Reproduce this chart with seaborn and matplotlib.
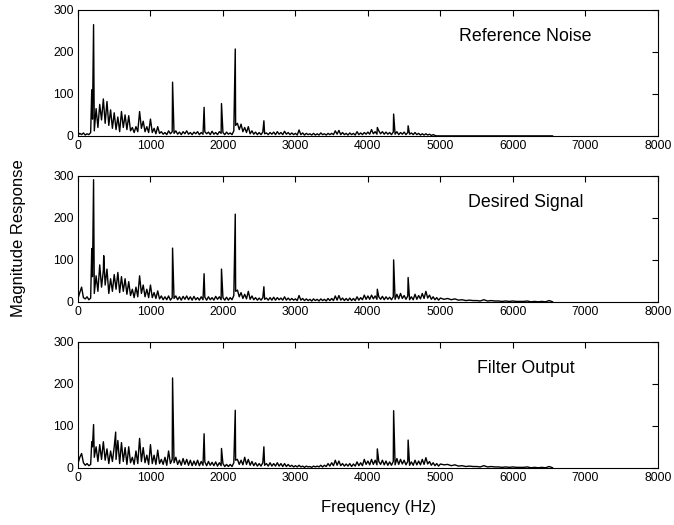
import numpy as np
import pandas as pd
import matplotlib
matplotlib.use('Agg')
import matplotlib.pyplot as plt
import seaborn as sns

# frequency grids (Hz)
floor_freq = np.arange(0, 5000, 25)
tail_freq = np.arange(5000, 6600, 50)

# broadband floor, 25 Hz steps, one row = 500 Hz
noise_floor = [
    2, 6, 3, 7, 2, 5, 3, 8, 40, 12, 65, 20, 75, 38, 88, 30, 82, 25, 62, 18,
    55, 15, 45, 10, 58, 20, 50, 15, 48, 12, 20, 8, 22, 10, 58, 18, 35, 10, 22, 8,
    40, 8, 18, 5, 22, 6, 10, 4, 8, 3, 12, 5, 10, 6, 12, 4, 9, 3, 10, 5,
    12, 4, 8, 3, 9, 5, 10, 3, 8, 4, 10, 5, 9, 3, 11, 4, 8, 3, 10, 6,
    8, 3, 9, 4, 7, 3, 12, 25, 30, 15, 28, 10, 20, 8, 22, 5, 12, 4, 9, 3,
    8, 3, 9, 5, 7, 3, 8, 4, 9, 3, 10, 4, 8, 3, 11, 4, 8, 3, 7, 3,
    6, 2, 14, 3, 7, 2, 6, 3, 5, 2, 6, 2, 5, 2, 7, 3, 5, 2, 6, 3,
    6, 3, 12, 4, 13, 3, 8, 3, 6, 2, 7, 3, 6, 2, 10, 3, 7, 3, 8, 4,
    9, 4, 15, 5, 10, 4, 12, 5, 10, 4, 9, 4, 8, 3, 9, 4, 10, 3, 8, 4,
    9, 3, 8, 4, 7, 3, 8, 3, 6, 2, 5, 2, 5, 2, 4, 1, 3, 1, 0, 0,
]
desired_floor = [
    8, 22, 35, 10, 7, 12, 5, 9, 60, 20, 62, 25, 88, 35, 75, 40, 78, 20, 55, 25,
    65, 30, 70, 22, 60, 25, 55, 18, 48, 15, 30, 10, 35, 12, 62, 20, 40, 12, 30, 10,
    40, 10, 22, 8, 26, 7, 14, 5, 12, 5, 14, 4, 10, 8, 14, 5, 12, 4, 13, 6,
    14, 5, 12, 4, 13, 5, 10, 4, 12, 5, 11, 4, 12, 5, 10, 4, 13, 6, 12, 5,
    10, 4, 11, 4, 10, 5, 15, 25, 28, 12, 22, 8, 18, 7, 25, 6, 14, 5, 10, 4,
    9, 4, 10, 6, 9, 4, 10, 4, 11, 4, 10, 5, 9, 4, 12, 4, 9, 4, 8, 4,
    7, 3, 15, 4, 8, 3, 7, 3, 6, 2, 7, 3, 6, 2, 7, 3, 6, 2, 8, 3,
    8, 3, 14, 4, 15, 4, 9, 3, 8, 3, 9, 3, 8, 3, 12, 4, 10, 5, 16, 6,
    14, 6, 16, 7, 14, 6, 12, 6, 13, 5, 12, 6, 11, 5, 12, 6, 18, 7, 20, 8,
    15, 6, 14, 5, 12, 5, 18, 6, 15, 7, 20, 8, 25, 9, 16, 6, 12, 5, 10, 4,
]
output_floor = [
    10, 25, 34, 12, 6, 10, 5, 8, 50, 25, 50, 15, 55, 20, 62, 18, 45, 10, 40, 15,
    50, 20, 65, 10, 60, 15, 48, 8, 50, 12, 25, 8, 40, 10, 70, 15, 48, 12, 30, 8,
    55, 10, 30, 8, 42, 10, 20, 8, 25, 6, 40, 10, 20, 12, 25, 8, 18, 6, 22, 8,
    20, 6, 18, 5, 16, 6, 18, 5, 15, 6, 14, 5, 15, 6, 13, 5, 14, 4, 12, 5,
    10, 3, 8, 3, 8, 3, 12, 18, 20, 8, 18, 7, 25, 8, 20, 6, 15, 5, 12, 4,
    10, 4, 12, 6, 10, 4, 12, 4, 10, 4, 12, 4, 10, 3, 10, 3, 8, 3, 6, 2,
    5, 2, 6, 2, 4, 1, 4, 2, 3, 1, 4, 2, 4, 2, 6, 2, 6, 3, 10, 4,
    12, 5, 18, 6, 16, 5, 10, 4, 9, 4, 10, 3, 9, 4, 14, 5, 12, 5, 20, 8,
    16, 7, 20, 8, 18, 7, 15, 8, 18, 7, 16, 6, 14, 6, 15, 7, 22, 8, 20, 9,
    18, 7, 15, 6, 14, 6, 18, 7, 16, 7, 20, 8, 24, 9, 15, 6, 12, 5, 10, 4,
]

# high-frequency tail, 50 Hz steps
noise_tail = [0] * 32
desired_tail = [9, 6, 8, 5, 7, 4, 5, 3, 4, 3, 3, 2, 5, 2, 3, 2,
                2, 1, 2, 1, 2, 1, 1, 1, 2, 0, 1, 0, 1, 0, 3, 0]
output_tail = [9, 7, 8, 5, 7, 4, 5, 3, 4, 3, 3, 2, 5, 2, 3, 2,
               2, 1, 2, 1, 2, 1, 1, 1, 2, 0, 1, 0, 1, 0, 3, 0]

# narrow spectral lines (Hz, magnitude)
noise_peak_freq = [190, 215, 1305, 1740, 1980, 2170, 2565, 4130, 4355, 4555]
noise_peak_mag = [110, 265, 128, 68, 77, 207, 36, 20, 52, 24]
desired_peak_freq = [190, 215, 355, 1305, 1740, 1980, 2170, 2565, 4130, 4355, 4555]
desired_peak_mag = [127, 291, 110, 128, 67, 78, 209, 36, 30, 100, 58]
output_peak_freq = [190, 215, 520, 1305, 1740, 1980, 2170, 2565, 4130, 4355, 4555]
output_peak_mag = [62, 103, 85, 214, 81, 46, 137, 50, 45, 136, 66]

titles = ['Reference Noise', 'Desired Signal', 'Filter Output']

sns.set_style('white')
plt.rcParams['font.family'] = ['Liberation Sans', 'DejaVu Sans']

panels = [
    (noise_floor, noise_tail, noise_peak_freq, noise_peak_mag),
    (desired_floor, desired_tail, desired_peak_freq, desired_peak_mag),
    (output_floor, output_tail, output_peak_freq, output_peak_mag),
]

fig, axes = plt.subplots(3, 1, figsize=(6.74, 5.25), dpi=100)
fig.subplots_adjust(left=0.1157, right=0.976, top=0.981, bottom=0.109, hspace=0.318)

for ax, (floor, tail, pf, pm), title in zip(axes, panels, titles):
    df = pd.DataFrame({
        'freq': np.concatenate([floor_freq, tail_freq, pf]),
        'mag': np.concatenate([floor, tail, pm]),
    }).sort_values('freq')
    sns.lineplot(data=df, x='freq', y='mag', ax=ax, color='black',
                 linewidth=1.0, estimator=None, sort=True)
    ax.set_xlim(0, 8000)
    ax.set_ylim(0, 300)
    ax.set_xticks(range(0, 8001, 1000))
    ax.set_yticks([0, 100, 200, 300])
    ax.tick_params(direction='in', top=True, right=True, length=4,
                   labelsize=8.8, pad=3, color='black', labelcolor='black')
    for s in ax.spines.values():
        s.set_color('black')
        s.set_linewidth(0.8)
    ax.set_xlabel('')
    ax.set_ylabel('')
    ax.text(0.772, 0.79, title, transform=ax.transAxes, ha='center',
            va='center', fontsize=12.8, color='black')

fig.text(0.027, 0.547, 'Magnitude Response', rotation=90, ha='center',
         va='center', fontsize=12, color='black')
fig.text(0.561, 0.034, 'Frequency (Hz)', ha='center', va='center',
         fontsize=12, color='black')

fig.savefig('out.png', dpi=100)
